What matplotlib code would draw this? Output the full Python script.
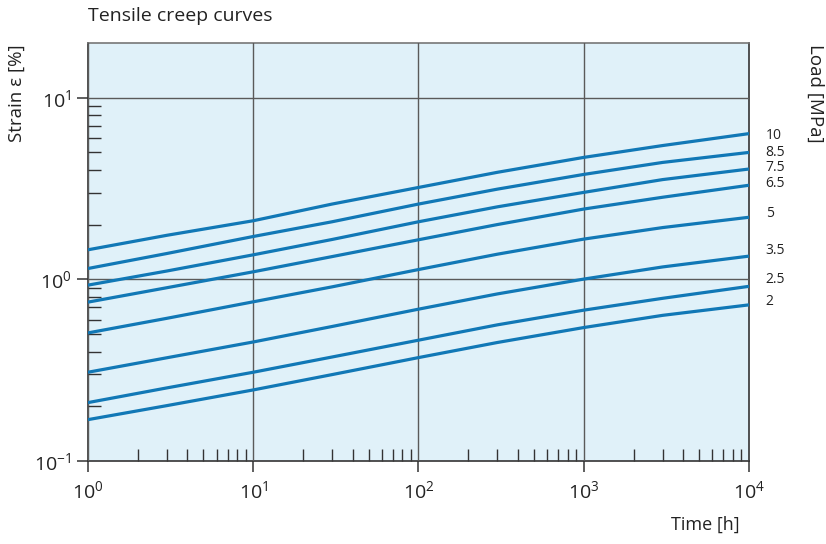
import numpy as np
import matplotlib
matplotlib.use("Agg")
import matplotlib.pyplot as plt
from matplotlib.ticker import LogLocator, FixedLocator, NullFormatter

plt.rcParams['font.family'] = ['Open Sans', 'DejaVu Sans']
plt.rcParams['mathtext.fontset'] = 'custom'
plt.rcParams['mathtext.rm'] = 'Open Sans'
plt.rcParams['mathtext.it'] = 'Open Sans:italic'
plt.rcParams['mathtext.bf'] = 'Open Sans:bold'

# time [h] and strain [%] for each load level
hours = [1, 3, 10, 30, 100, 300, 1000, 3000, 10000]
loads = ['10', '8.5', '7.5', '6.5', '5', '3.5', '2.5', '2']
strain_10 = [1.454, 1.747, 2.101, 2.596, 3.204, 3.882, 4.69, 5.45, 6.34]
strain_8_5 = [1.147, 1.387, 1.721, 2.074, 2.596, 3.136, 3.78, 4.40, 4.996]
strain_7_5 = [0.929, 1.111, 1.364, 1.657, 2.074, 2.506, 3.01, 3.54, 4.048]
strain_6_5 = [0.749, 0.899, 1.100, 1.334, 1.651, 2.002, 2.437, 2.830, 3.295]
strain_5 = [0.507, 0.610, 0.752, 0.909, 1.132, 1.375, 1.665, 1.927, 2.196]
strain_3_5 = [0.308, 0.370, 0.452, 0.550, 0.685, 0.831, 1.003, 1.170, 1.342]
strain_2_5 = [0.2096, 0.2525, 0.308, 0.3736, 0.4624, 0.5615, 0.6765, 0.786, 0.915]
strain_2 = [0.1689, 0.2017, 0.2461, 0.2989, 0.3708, 0.449, 0.5427, 0.6334, 0.7235]
curves = [strain_10, strain_8_5, strain_7_5, strain_6_5,
          strain_5, strain_3_5, strain_2_5, strain_2]

# vertical nudge (points) of each load label next to the curve end
label_dy = [-1.5, 0, 1.2, 1.1, 2.5, 4.0, 4.7, 2.2]

line_color = '#1178b6'
dark = '#333333'

fig = plt.figure(figsize=(8.26, 5.44), dpi=100)
ax = fig.add_axes([0.1065, 0.1526, 0.8003, 0.7684])
ax.set_facecolor('#e0f1f9')

for load, strain, dy in zip(loads, curves, label_dy):
    ax.plot(hours, strain, color=line_color, lw=2.3, solid_capstyle='butt',
            solid_joinstyle='round', zorder=3)
    ax.annotate(load, xy=(hours[-1], strain[-1]), xytext=(12, dy),
                textcoords='offset points', ha='left', va='center',
                fontsize=10, color='#222222', annotation_clip=False)

ax.set_xscale('log')
ax.set_yscale('log')
ax.set_xlim(1, 1e4)
ax.set_ylim(0.1, 20)

ax.xaxis.set_major_locator(LogLocator(base=10, numticks=10))
ax.yaxis.set_major_locator(LogLocator(base=10, numticks=10))
ax.xaxis.set_minor_locator(LogLocator(base=10, subs=np.arange(2, 10), numticks=20))
y_minor = [m * d for d in (0.1, 1.0) for m in range(2, 10)]
ax.yaxis.set_minor_locator(FixedLocator(y_minor))
ax.xaxis.set_minor_formatter(NullFormatter())
ax.yaxis.set_minor_formatter(NullFormatter())

ax.tick_params(which='major', direction='out', length=8, width=1.1,
               color=dark, labelsize=14, labelcolor='#222222')
ax.tick_params(axis='x', which='major', pad=6)
ax.tick_params(axis='y', which='major', pad=4)
ax.tick_params(which='minor', direction='in', length=9, width=1.0, color=dark)
ax.tick_params(top=False, right=False, which='both')

ax.grid(True, which='major', color='#5a5a5a', lw=1.0)
ax.set_axisbelow(False)
for line in ax.get_xgridlines() + ax.get_ygridlines():
    line.set_zorder(1)

for side in ['left', 'bottom', 'right']:
    ax.spines[side].set_color(dark)
    ax.spines[side].set_linewidth(1.2)
ax.spines['top'].set_color('#777777')
ax.spines['top'].set_linewidth(1.2)

fig.text(88 / 826, 1 - 16 / 544, 'Tensile creep curves', ha='left', va='center',
         fontsize=14, color='#222222')
fig.text(17 / 826, 1 - 93 / 544, 'Strain ε [%]', rotation=90, ha='center',
         va='center', fontsize=13.5, color='#222222')
fig.text(815 / 826, 1 - 93 / 544, 'Load [MPa]', rotation=270, ha='center',
         va='center', fontsize=13.5, color='#222222')
fig.text(740 / 826, 1 - 525 / 544, 'Time [h]', ha='right', va='center',
         fontsize=13, color='#222222')

fig.savefig('out.png', dpi=100)
